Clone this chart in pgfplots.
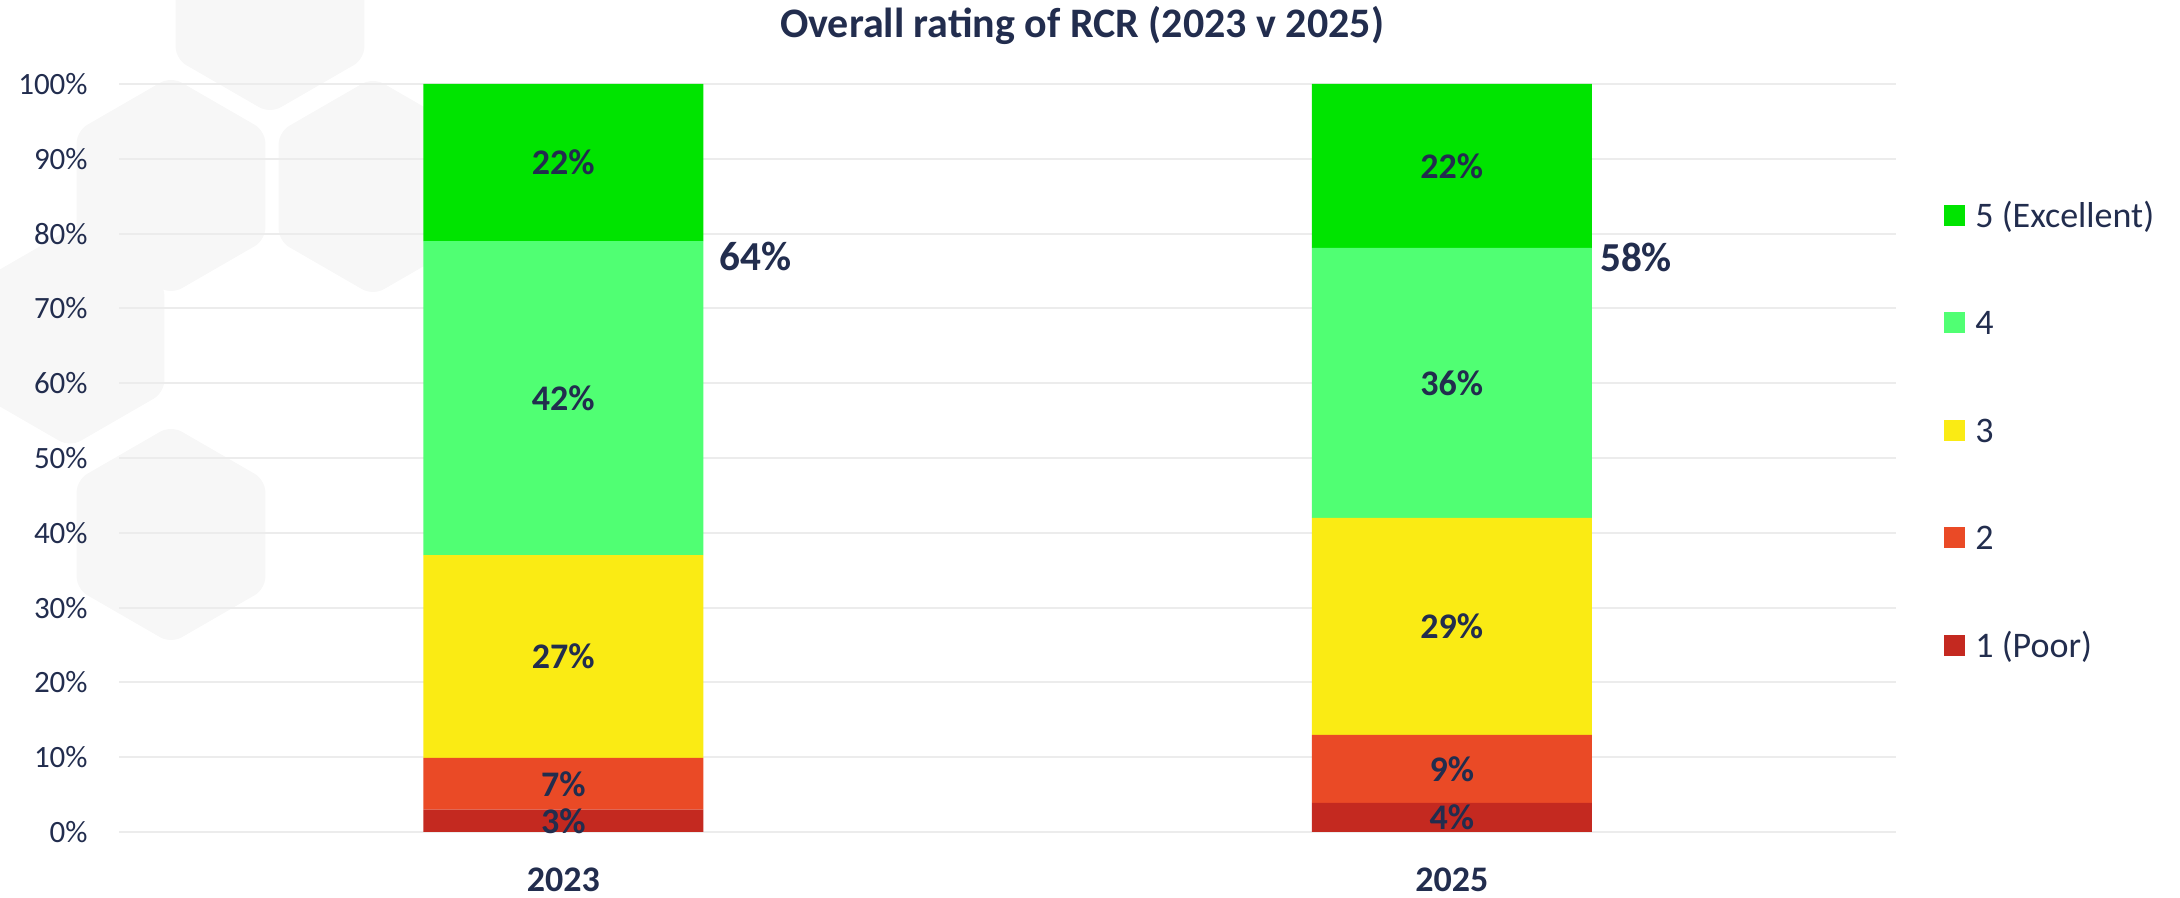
\documentclass[border=0pt]{standalone}
\usepackage{pgfplots}
\pgfplotsset{compat=1.18}
\usepackage{fontspec}
\setmainfont{Carlito}
\definecolor{txt}{RGB}{34,45,78}
\definecolor{c5}{RGB}{0,228,0}
\definecolor{c4}{RGB}{80,255,115}
\definecolor{c3}{RGB}{250,235,20}
\definecolor{c2}{RGB}{234,74,38}
\definecolor{c1}{RGB}{196,41,32}
\definecolor{gridc}{RGB}{236,236,236}
\definecolor{hexc}{RGB}{247,247,247}
\tikzset{
  lab/.style={font=\bfseries\fontsize{18}{21}\selectfont, text=txt, inner sep=0pt, anchor=center},
  tot/.style={font=\bfseries\fontsize{20.6}{24}\selectfont, text=txt, inner sep=0pt, anchor=west},
}
\begin{document}
\begin{tikzpicture}
\begin{scope}
\clip (-59.5pt,-33pt) rectangle (1030.5pt,416pt);
\begin{scope}[shift={(-59.5pt,416pt)}, x=0.5pt, y=-0.5pt]
\foreach \cx/\cy in {270/4.5, 171/185.5, 373/186.5, 70/338, 171/534.5}{
  \fill[hexc, draw=black!3, rounded corners=6pt] (\cx,\cy-108.5) -- (\cx+94,\cy-54.25) -- (\cx+94,\cy+54.25) -- (\cx,\cy+108.5) -- (\cx-94,\cy+54.25) -- (\cx-94,\cy-54.25) -- cycle;
}
\end{scope}
\end{scope}
\begin{axis}[
  at={(0,0)}, anchor=south west,
  scale only axis, width=888.5pt, height=374pt,
  ybar stacked, bar width=140pt,
  xmin=-0.5, xmax=1.5, ymin=0, ymax=100,
  xtick={0,1}, xticklabels={2023,2025},
  ytick={0,10,20,30,40,50,60,70,80,90,100},
  yticklabels={0\%,10\%,20\%,30\%,40\%,50\%,60\%,70\%,80\%,90\%,100\%},
  axis line style={draw=none}, major tick length=0pt, tick style={draw=none},
  ymajorgrids, grid style={gridc, line width=1pt},
  tick label style={text=txt},
  yticklabel style={font=\fontsize{15.5}{18}\selectfont, inner sep=0pt, xshift=-15.5pt},
  xticklabel style={font=\bfseries\fontsize{18}{21}\selectfont, inner sep=0pt, anchor=center, yshift=-24pt},
  title={Overall rating of RCR (2023 v 2025)},
  title style={at={(0.542,1)}, anchor=base, yshift=17pt, font=\bfseries\fontsize{21}{25}\selectfont, text=txt, inner sep=0pt},
  legend style={at={(1,0.5374)}, anchor=west, xshift=24pt, draw=none, fill=none, inner sep=0pt,
    row sep=41.75pt, column sep=5pt, font=\fontsize{18}{21}\selectfont, text=txt,
    nodes={inner sep=0pt, text height=12pt, text depth=0pt}},
  legend cell align=left,
  reverse legend,
  clip=false,
]
\addplot[fill=c1, draw=none, legend image code/.code={\fill[c1] (0pt,-5.25pt) rectangle (10.5pt,5.25pt);}] coordinates {(0,3.0) (1,3.9)};
\addplot[fill=c2, draw=none, legend image code/.code={\fill[c2] (0pt,-5.25pt) rectangle (10.5pt,5.25pt);}] coordinates {(0,6.9) (1,9.1)};
\addplot[fill=c3, draw=none, legend image code/.code={\fill[c3] (0pt,-5.25pt) rectangle (10.5pt,5.25pt);}] coordinates {(0,27.1) (1,29.0)};
\addplot[fill=c4, draw=none, legend image code/.code={\fill[c4] (0pt,-5.25pt) rectangle (10.5pt,5.25pt);}] coordinates {(0,42.0) (1,36.1)};
\addplot[fill=c5, draw=none, legend image code/.code={\fill[c5] (0pt,-5.25pt) rectangle (10.5pt,5.25pt);}] coordinates {(0,21.0) (1,21.9)};
\legend{1 (Poor),2,3,4,5 (Excellent)}
\coordinate (a1) at (axis cs:0,1.5);
\coordinate (a2) at (axis cs:0,6.45);
\coordinate (a3) at (axis cs:0,23.45);
\coordinate (a4) at (axis cs:0,58);
\coordinate (a5) at (axis cs:0,89.5);
\coordinate (b1) at (axis cs:1,1.95);
\coordinate (b2) at (axis cs:1,8.45);
\coordinate (b3) at (axis cs:1,27.5);
\coordinate (b4) at (axis cs:1,60.05);
\coordinate (b5) at (axis cs:1,89.05);
\coordinate (ta) at (axis cs:0.1576,76.9);
\coordinate (tb) at (axis cs:1.1576,76.8);
\end{axis}
\node[lab] at (a1) {3\%};
\node[lab] at (a2) {7\%};
\node[lab] at (a3) {27\%};
\node[lab] at (a4) {42\%};
\node[lab] at (a5) {22\%};
\node[lab] at (b1) {4\%};
\node[lab] at (b2) {9\%};
\node[lab] at (b3) {29\%};
\node[lab] at (b4) {36\%};
\node[lab] at (b5) {22\%};
\node[tot, xshift=8pt] at (ta) {64\%};
\node[tot, xshift=4pt] at (tb) {58\%};
\pgfresetboundingbox
\path[use as bounding box] (-59.5pt,-33pt) rectangle (1030.5pt,416pt);
\end{tikzpicture}
\end{document}
